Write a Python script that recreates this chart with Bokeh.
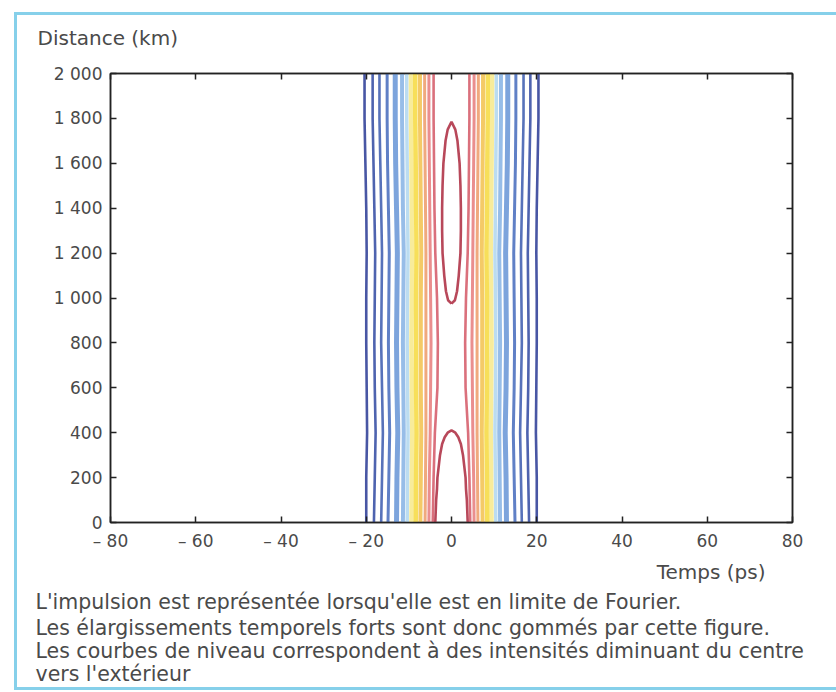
import numpy as np
from bokeh.plotting import figure
from bokeh.models import LinearAxis, Range1d, FixedTicker, Title
from bokeh.embed import file_html
from bokeh.resources import INLINE

# ---- data ----
x_ticks = [-80, -60, -40, -20, 0, 20, 40, 60, 80]
x_tick_labels = ["– 80", "– 60", "– 40", "– 20", "0", "20", "40", "60", "80"]
y_ticks = [0, 200, 400, 600, 800, 1000, 1200, 1400, 1600, 1800, 2000]
y_tick_labels = ["0", "200", "400", "600", "800", "1 000", "1 200", "1 400", "1 600", "1 800", "2 000"]

# distances (km) at which the half-widths (ps) of the contour levels were read
distance_km = [0, 200, 400, 600, 800, 1000, 1200, 1400, 1600, 1800, 2000]

# continuous contour levels, from the outside (low intensity) to the centre
level_colors = ["#34449a", "#3b52a6", "#4563b2", "#4f72c0", "#6f9ad8", "#8cb6e6",
                "#b4d8f0", "#f7ea90", "#f6dc48", "#f3c456", "#eea070", "#e88282", "#d6606e"]
level_widths = [2.6, 2.6, 2.6, 3.0, 5.0, 4.0, 3.5, 4.5, 4.5, 4.0, 3.0, 3.0, 2.6]
level_half_width = [
    [20.0, 20.0, 19.8, 19.9, 20.0, 20.0, 19.9, 20.0, 20.2, 20.4, 20.4],
    [18.2, 18.0, 17.8, 18.0, 18.1, 18.0, 17.9, 18.1, 18.3, 18.5, 18.5],
    [16.5, 16.3, 16.1, 16.3, 16.5, 16.4, 16.3, 16.5, 16.7, 16.9, 16.9],
    [14.9, 14.7, 14.5, 14.7, 14.8, 14.7, 14.6, 14.8, 15.0, 15.1, 15.1],
    [12.9, 12.8, 12.6, 12.8, 12.9, 12.8, 12.7, 12.9, 13.1, 13.2, 13.2],
    [11.4, 11.3, 11.2, 11.3, 11.4, 11.3, 11.2, 11.4, 11.5, 11.6, 11.6],
    [10.4, 10.3, 10.2, 10.3, 10.4, 10.3, 10.2, 10.3, 10.4, 10.5, 10.5],
    [9.4, 9.3, 9.2, 9.3, 9.4, 9.3, 9.2, 9.3, 9.4, 9.5, 9.5],
    [8.4, 8.3, 8.2, 8.3, 8.3, 8.3, 8.2, 8.3, 8.4, 8.5, 8.5],
    [7.3, 7.2, 7.1, 7.2, 7.2, 7.2, 7.1, 7.2, 7.3, 7.4, 7.4],
    [6.2, 6.1, 6.0, 6.0, 6.0, 6.0, 6.0, 6.1, 6.2, 6.3, 6.3],
    [5.3, 5.2, 5.0, 4.9, 4.8, 4.9, 5.0, 5.1, 5.2, 5.3, 5.3],
    [4.4, 4.2, 3.9, 3.3, 3.2, 3.4, 3.8, 4.0, 4.1, 4.2, 4.2],
]

# innermost (highest-intensity) level: two islands
island_color = "#b8485a"
top_island_km = [975, 990, 1030, 1100, 1200, 1300, 1400, 1500, 1600, 1700, 1750, 1785]
top_island_hw = [0.0, 0.8, 1.3, 1.7, 2.1, 2.2, 2.2, 2.1, 1.9, 1.4, 0.9, 0.0]
bottom_island_km = [0, 50, 100, 150, 200, 250, 300, 350, 380, 400, 410]
bottom_island_hw = [3.8, 3.7, 3.6, 3.4, 3.3, 3.0, 2.7, 2.2, 1.6, 0.9, 0.0]

y_title = "Distance (km)"
x_title = "Temps (ps)"
caption_lines = [
    "L'impulsion est représentée lorsqu'elle est en limite de Fourier.",
    "Les élargissements temporels forts sont  donc gommés par cette figure.",
    "Les courbes de niveau correspondent à des intensités diminuant du centre",
    "vers l'extérieur",
]

# ---- figure ----
W, H = 836, 692
p = figure(width=W, height=H, output_backend="svg", toolbar_location=None,
           x_range=Range1d(-80, 80), y_range=Range1d(0, 2000),
           min_border_left=110, min_border_right=44, min_border_top=73, min_border_bottom=170)
p.grid.visible = False
p.outline_line_color = "#222222"
p.outline_line_width = 1.5
p.background_fill_color = "white"
p.border_fill_color = None
frame_col = "#86d0ea"
g = f"linear-gradient({frame_col}, {frame_col})"
p.styles = {
    "background-color": "white",
    "background-image": f"{g}, {g}, {g}",
    "background-size": "3px 677px, 830px 3px, 830px 3px",
    "background-position": "14px 12px, 14px 12px, 14px 687px",
    "background-repeat": "no-repeat",
}

font = "DejaVu Sans"
txt = "#4a4a4a"

for ax, ticks, labels in ((p.xaxis[0], x_ticks, x_tick_labels), (p.yaxis[0], y_ticks, y_tick_labels)):
    ax.ticker = FixedTicker(ticks=ticks)
    ax.major_label_overrides = {t: l for t, l in zip(ticks, labels)}
    ax.major_tick_in = 6
    ax.major_tick_out = 0
    ax.minor_tick_line_color = None
    ax.axis_line_color = "#222222"
    ax.axis_line_width = 1.5
    ax.major_tick_line_color = "#222222"
    ax.major_tick_line_width = 1.5
    ax.major_label_text_font = font
    ax.major_label_text_font_size = "17px"
    ax.major_label_text_color = txt
    ax.major_label_standoff = 8

for loc, ticks in (("above", x_ticks), ("right", y_ticks)):
    a = LinearAxis(ticker=FixedTicker(ticks=ticks))
    a.major_label_text_font_size = "0px"
    a.major_label_text_alpha = 0
    a.major_tick_in = 6
    a.major_tick_out = 0
    a.minor_tick_line_color = None
    a.axis_line_color = "#222222"
    a.axis_line_width = 1.5
    a.major_tick_line_color = "#222222"
    a.major_tick_line_width = 1.5
    a.major_label_standoff = 0
    p.add_layout(a, loc)

# contour levels, mirrored on both sides of t = 0
for col, lw, hw in zip(level_colors, level_widths, level_half_width):
    hw = np.array(hw)
    p.line(x=-hw, y=distance_km, line_color=col, line_width=lw, line_alpha=0.9)
    p.line(x=hw, y=distance_km, line_color=col, line_width=lw, line_alpha=0.9)

# islands of the innermost level
thw = np.array(top_island_hw)
tkm = np.array(top_island_km)
p.line(x=np.concatenate([-thw, thw[::-1]]), y=np.concatenate([tkm, tkm[::-1]]),
       line_color=island_color, line_width=2.6)
bhw = np.array(bottom_island_hw)
bkm = np.array(bottom_island_km)
p.line(x=np.concatenate([-bhw, bhw[::-1]]), y=np.concatenate([bkm, bkm[::-1]]),
       line_color=island_color, line_width=2.6)

# texts as titles around the frame
def mk_title(text, align, offset, standoff, size):
    return Title(text=text, align=align, offset=offset, standoff=standoff,
                 text_font=font, text_font_size=size, text_font_style="normal", text_color=txt)

p.title = mk_title(y_title, "left", -73, 47, "20px")
p.add_layout(mk_title(x_title, "right", 27, 8, "20px"), "below")
cap_standoffs = [0, 0, -6, 0]
for line, so in zip(caption_lines, cap_standoffs):
    p.add_layout(mk_title(line, "left", -75, so, "20.5px"), "below")

open("out.html", "w").write(file_html(p, INLINE))
